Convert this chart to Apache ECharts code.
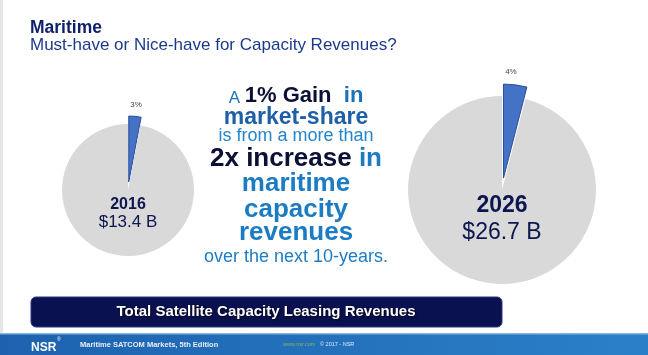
<!DOCTYPE html>
<html><head><meta charset="utf-8">
<script src="https://cdn.jsdelivr.net/npm/echarts@6/dist/echarts.min.js"></script>
<style>html,body{margin:0;padding:0;background:#fff}#c{width:648px;height:355px}</style>
</head><body><div id="c"></div>
<script>
// ---- data ----
const years = ['2016', '2026'];
const revenuesB = [13.4, 26.7];      // total satellite capacity leasing revenues, $B
const maritimeShare = [3, 4];         // maritime share, %
const titleMain = 'Maritime';
const titleSub = 'Must-have or Nice-have for Capacity Revenues?';
const bannerText = 'Total Satellite Capacity Leasing Revenues';

// ---- layout / style ----
const F = '"Liberation Sans", Arial, sans-serif';
const pieGeom = [
  { center: [128, 190], radius: 66, offset: 8, len: 12, ldx: 0, yearSize: 16, revSize: 17, yearY: 205, revY: 222 },
  { center: [502, 190], radius: 94, offset: 12, len: 13, ldx: -6, yearSize: 23, revSize: 23, yearY: 206, revY: 233 }
];

const chart = echarts.init(document.getElementById('c'), null, { renderer: 'canvas' });

const series = years.map((y, i) => {
  const g = pieGeom[i];
  return {
    type: 'pie',
    name: y,
    center: g.center,
    radius: g.radius,
    startAngle: 90,
    clockwise: true,
    animation: false,
    selectedMode: 'single',
    selectedOffset: g.offset,
    silent: true,
    labelLayout: { align: 'center', dx: g.ldx },
    data: [
      {
        name: 'Maritime', value: maritimeShare[i], selected: true,
        itemStyle: { color: '#4472c4', borderColor: '#2a4f9e', borderWidth: 1 },
        label: { show: true, position: 'outside', formatter: '{c}%', fontSize: 8, fontFamily: F, color: '#444', distanceToLabelLine: 0 },
        labelLine: { show: false, length: g.len, length2: 0 }
      },
      {
        name: 'Other', value: 100 - maritimeShare[i],
        itemStyle: { color: '#d9d9d9', borderWidth: 0 },
        label: { show: false }, labelLine: { show: false }
      }
    ],
    select: { itemStyle: { color: '#4472c4', borderColor: '#2a4f9e', borderWidth: 1 } },
    emphasis: { disabled: true }
  };
});

const graphics = [];
// left screen edge strip
graphics.push({ type: 'rect', shape: { x: 0, y: 0, width: 3, height: 333 }, style: { fill: '#e6e6e6' }, silent: true });
// titles
graphics.push({ type: 'text', x: 30, y: 28.5, style: { text: titleMain, font: 'bold 17.5px ' + F, fill: '#0e1f6b', verticalAlign: 'middle' } });
graphics.push({ type: 'text', x: 30, y: 45, style: { text: titleSub, font: '17px ' + F, fill: '#1c3a8c', verticalAlign: 'middle' } });

// pie center labels
years.forEach((y, i) => {
  const g = pieGeom[i];
  graphics.push({ type: 'text', z: 10, x: g.center[0], y: g.yearY, style: { text: y, font: 'bold ' + g.yearSize + 'px ' + F, fill: '#0d1650', align: 'center', verticalAlign: 'middle' } });
  graphics.push({ type: 'text', z: 10, x: g.center[0], y: g.revY, style: { text: '$' + revenuesB[i].toFixed(1) + ' B', font: g.revSize + 'px ' + F, fill: '#0d1650', align: 'center', verticalAlign: 'middle' } });
});

// centre message
const cx = 296;
const darkC = '#0b1035', blueC = '#1d6fba', brightC = '#1b7bc3';
const lines = [
  { y: 93.5, text: '{a|A }{b|1% Gain  }{c|in}', rich: {
      a: { fontSize: 17, fontFamily: F, fill: blueC, verticalAlign: 'bottom', lineHeight: 24 },
      b: { fontSize: 22, fontFamily: F, fontWeight: 'bold', fill: darkC, verticalAlign: 'bottom', lineHeight: 26 },
      c: { fontSize: 22, fontFamily: F, fontWeight: 'bold', fill: blueC, verticalAlign: 'bottom', lineHeight: 26 } } },
  { y: 117.5, text: '{a|market-share}', rich: { a: { fontSize: 23, fontFamily: F, fontWeight: 'bold', fill: '#1f5fa8' } } },
  { y: 136.5, text: '{a|is from a more than}', rich: { a: { fontSize: 18, fontFamily: F, fill: '#2485cc' } } },
  { y: 158.5, text: '{b|2x increase }{c|in}', rich: {
      b: { fontSize: 26, fontFamily: F, fontWeight: 'bold', fill: darkC },
      c: { fontSize: 26, fontFamily: F, fontWeight: 'bold', fill: brightC } } },
  { y: 184, text: '{a|maritime}', rich: { a: { fontSize: 26, fontFamily: F, fontWeight: 'bold', fill: brightC } } },
  { y: 209.5, text: '{a|capacity}', rich: { a: { fontSize: 26, fontFamily: F, fontWeight: 'bold', fill: brightC } } },
  { y: 233, text: '{a|revenues}', rich: { a: { fontSize: 26, fontFamily: F, fontWeight: 'bold', fill: brightC } } },
  { y: 257.5, text: '{a|over the next 10-years.}', rich: { a: { fontSize: 18, fontFamily: F, fill: '#1c7cc4' } } }
];
lines.forEach(l => {
  graphics.push({ type: 'text', x: cx, y: l.y, style: { text: l.text, rich: l.rich, align: 'center', verticalAlign: 'middle' } });
});

// banner
graphics.push({ type: 'rect', shape: { x: 31, y: 297, width: 471, height: 30, r: 5 }, style: { fill: '#0a1150', stroke: '#2a3a7e', lineWidth: 1 } });
graphics.push({ type: 'text', x: 266, y: 312, style: { text: bannerText, font: 'bold 15px ' + F, fill: '#ffffff', align: 'center', verticalAlign: 'middle', textShadowColor: 'rgba(0,0,0,0.8)', textShadowBlur: 2, textShadowOffsetX: 1, textShadowOffsetY: 1 } });

// footer
graphics.push({ type: 'rect', shape: { x: 0, y: 333, width: 648, height: 22 }, style: { fill: new echarts.graphic.LinearGradient(0, 0, 1, 0, [{ offset: 0, color: '#1d62ae' }, { offset: 1, color: '#2a80c8' }]) } });
graphics.push({ type: 'rect', shape: { x: 0, y: 333, width: 648, height: 1.5 }, style: { fill: '#86b5de' } });
graphics.push({ type: 'text', x: 31, y: 347.5, style: { text: 'NSR', font: 'bold 12px ' + F, fill: '#ffffff', verticalAlign: 'middle' } });
graphics.push({ type: 'text', x: 57, y: 340, style: { text: '®', font: '5px ' + F, fill: '#ffffff', verticalAlign: 'middle' } });
graphics.push({ type: 'text', x: 80, y: 345, style: { text: 'Maritime SATCOM Markets, 5th Edition', font: 'bold 7.5px ' + F, fill: '#e8eef8', verticalAlign: 'middle' } });
graphics.push({ type: 'text', x: 283, y: 344, style: { text: 'www.nsr.com', font: '5.5px ' + F, fill: '#7fb85a', verticalAlign: 'middle' } });
graphics.push({ type: 'text', x: 320, y: 344, style: { text: '© 2017 - NSR', font: '5.5px ' + F, fill: '#dfe8f4', verticalAlign: 'middle' } });

chart.setOption({
  backgroundColor: '#ffffff',
  animation: false,
  series: series,
  graphic: { elements: graphics }
});
</script>
</body></html>
